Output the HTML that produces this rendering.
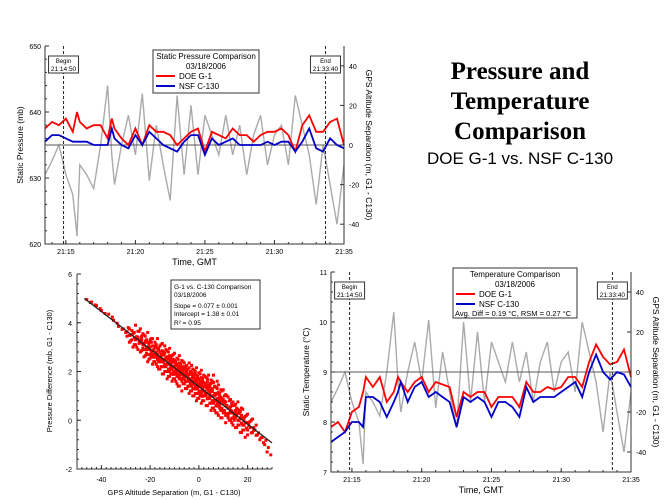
<!DOCTYPE html>
<html><head><meta charset="utf-8"><style>
body{margin:0;background:#fff;}
svg{display:block;font-family:"Liberation Sans",sans-serif;}
</style></head><body>
<svg id="s" width="667" height="500" viewBox="0 0 667 500" xmlns="http://www.w3.org/2000/svg">
<rect width="667" height="500" fill="#fff"/>
<g font-family="'Liberation Serif',serif" font-weight="bold" font-size="25" text-anchor="middle" fill="#000">
<text x="520" y="79">Pressure and</text>
<text x="520" y="109">Temperature</text>
<text x="520" y="139">Comparison</text>
</g>
<text x="520" y="164" font-size="17" text-anchor="middle">DOE G-1 vs. NSF C-130</text>
</svg>
<script>
const times=[13.5,14,14.5,15,15.5,15.8,16,16.5,17,17.5,18,18.3,18.5,19,19.5,20,20.5,21,21.5,22,22.5,23,23.5,24,24.5,25,25.5,26,26.5,27,27.5,28,28.5,29,29.5,30,30.5,31,31.5,32,32.5,33,33.5,34,34.5,35];
const gpsSep=[-15,-8,0,-15,-25,-46,-10,-15,-22,0,30,-5,-20,0,15,-5,26,-18,10,-10,-28,25,-15,20,-15,15,5,-5,15,-5,10,-15,5,15,-10,5,10,-10,25,10,-5,-30,0,-20,-40,-10];
const pressDOE=[637.5,638.5,638,639,637,640,638.5,637.5,638,638,636,639,637.5,636,635,637.5,635,638,637,637,636.5,635,636,637,637.5,634,637,636.5,636,637.5,636.5,636.5,635.5,636.5,637,637,637.5,636.5,634,638,639.5,637,637,638.5,639,635];
const pressNSF=[635.5,636.5,636.5,636,635.5,635.5,635.5,635.5,635,635,635,637.5,636,635,634.5,636.5,635,637,636,635,634.5,634,635.5,636.5,636.5,633.5,636,635,635.5,636,635,635,635,635,635.5,635,635.5,635.5,634,635.5,637.5,634.5,634,636,635,634.5];
const tempDOE=[7.9,8.0,7.8,8.2,8.3,8.6,8.9,8.7,8.9,8.4,8.6,8.9,8.8,8.6,8.8,8.9,8.6,8.8,8.75,8.7,8.1,8.6,8.5,8.6,8.6,8.3,8.5,8.5,8.5,8.3,8.8,8.6,8.6,8.7,8.65,8.7,8.9,8.9,8.7,9.2,9.55,9.3,9.15,9.2,9.45,8.9];
const tempNSF=[7.6,7.7,7.8,8.0,8.0,7.9,8.5,8.5,8.4,8.1,8.4,8.6,8.8,8.4,8.7,8.8,8.5,8.6,8.5,8.4,7.9,8.5,8.4,8.5,8.4,8.1,8.4,8.4,8.3,8.1,8.7,8.4,8.5,8.5,8.5,8.6,8.7,8.8,8.5,9.0,9.35,9.0,8.85,9.0,8.95,8.7];
const timeTicks=[15,20,25,30,35];
const timeTickLabels=["21:15","21:20","21:25","21:30","21:35"];
const pressTicks=[620,630,640,650];
const tempTicks=[7,8,9,10,11];
const sepTicks=[-40,-20,0,20,40];
const markerTimes=[14.833,33.667];
const markerLabels=[["Begin","21:14:50"],["End","21:33:40"]];
const scatX=[-46,-44,-42,-40,-37,-35,-33,-31,-30,-29,-28,-27,-26,-25,-24,-23,-22,-21,-20,-20,-19,-18,-18,-17,-16,-16,-15,-15,-14,-14,-13,-13,-12,-12,-11,-11,-10,-10,-9,-9,-8,-8,-7,-7,-6,-6,-5,-5,-4,-4,-3,-3,-2,-2,-1,-1,0,0,0,1,1,2,2,3,3,4,4,5,5,6,6,7,7,8,8,9,9,10,10,11,12,12,13,14,15,15,16,17,18,19,20,21,22,23,24,25,26,27,28];
const scatY=[4.95,4.85,4.7,4.5,4.35,4.1,3.85,3.75,3.6,3.8,3.5,3.55,3.3,3.4,3.2,3.1,3.25,2.95,3.0,2.7,2.85,2.6,3.0,2.7,2.5,2.8,2.4,2.7,2.5,2.2,2.6,2.3,2.3,2.0,2.4,2.1,2.2,1.9,2.3,2.0,1.8,2.1,2.0,1.7,1.9,1.5,1.8,2.0,1.6,1.9,1.7,1.4,1.8,1.5,1.6,1.3,1.7,1.4,1.1,1.5,1.2,1.4,1.0,1.5,1.1,1.3,0.9,1.2,1.5,1.0,0.7,1.1,0.8,0.9,0.6,0.9,0.5,0.7,0.4,0.6,0.5,0.2,0.4,0.3,0.1,0.4,0.0,0.1,-0.2,-0.1,-0.4,-0.3,-0.5,-0.4,-0.6,-0.8,-0.7,-1.0,-1.3];
const fitSlope=[-0.077];
const fitIntercept=[1.38];
const scatXTicks=[-40,-20,0,20];
const scatYTicks=[-2,0,2,4,6];

const svg=document.getElementById('s');
const NS="http://www.w3.org/2000/svg";
function mk(tag,attrs,parent,text){const e=document.createElementNS(NS,tag);for(const k in attrs)e.setAttribute(k,attrs[k]);if(text!==undefined)e.textContent=text;(parent||svg).appendChild(e);return e;}
function grp(name){const g=mk('g',{});


return g;}
function lin(d0,d1,r0,r1){return v=>r0+(v-d0)/(d1-d0)*(r1-r0);}
function path(xs,ys,fx,fy){return xs.map((x,i)=>(i?'L':'M')+fx(x).toFixed(1)+','+fy(ys[i]).toFixed(1)).join('');}

function timeChart(o){
  const g=grp(o.name);
  const fx=lin(13.5,35,o.x0,o.x1), fy=lin(o.ymin,o.ymax,o.y1,o.y0), fs=lin(-50,50,o.y1,o.y0);
  const gp=mk('path',{d:path(times,gpsSep,fx,fs),fill:'none',stroke:'#aaa','stroke-width':1.4},g);
  
  
  const zl=mk('line',{x1:o.x0,x2:o.x1,y1:fs(0),y2:fs(0),stroke:'#555','stroke-width':1},g);
  
  
  const r=mk('path',{d:path(times,o.red,fx,fy),fill:'none',stroke:'#f00','stroke-width':1.8},g);
  
  
  const b=mk('path',{d:path(times,o.blue,fx,fy),fill:'none',stroke:'#0000c8','stroke-width':1.8},g);
  
  
  const ax=mk('path',{d:`M${o.x0},${o.y0}V${o.y1}H${o.x1}V${o.y0}`,fill:'none',stroke:'#333','stroke-width':1},g);
  
  
  o.yt.forEach(v=>{const y=fy(v);mk('line',{x1:o.x0,x2:o.x0+4,y1:y,y2:y,stroke:'#333'},g);
    const t=mk('text',{x:o.x0-4,y:y+3,'font-size':7,'text-anchor':'end'},g,v);
    
    });
  for(let v=o.ymin;v<=o.ymax;v+=o.minor){const y=fy(v);mk('line',{x1:o.x0,x2:o.x0+2,y1:y,y2:y,stroke:'#333'},g);}
  sepTicks.forEach(v=>{const y=fs(v);mk('line',{x1:o.x1-4,x2:o.x1,y1:y,y2:y,stroke:'#333'},g);
    const t=mk('text',{x:o.x1+5,y:y+3,'font-size':7},g,v);
    
    });
  timeTicks.forEach((v,i)=>{const x=fx(v);mk('line',{x1:x,x2:x,y1:o.y1,y2:o.y1-4,stroke:'#333'},g);
    const t=mk('text',{x:x,y:o.y1+10,'font-size':7,'text-anchor':'middle'},g,timeTickLabels[i]);
    
    });
  for(let v=14;v<=35;v+=1){const x=fx(v);mk('line',{x1:x,x2:x,y1:o.y1,y2:o.y1-2,stroke:'#333'},g);}
  markerTimes.forEach((v,i)=>{const x=fx(v);
    const l=mk('line',{x1:x,x2:x,y1:o.y0,y2:o.y1,stroke:'#222','stroke-dasharray':'3,2','stroke-width':1},g);
    
    
    const bx=mk('rect',{x:x-15,y:o.y0+10,width:30,height:17,fill:'#fff',stroke:'#333'},g);
    
    
    mk('text',{x:x,y:o.y0+17,'font-size':6,'text-anchor':'middle'},g,markerLabels[i][0]);
    mk('text',{x:x,y:o.y0+25,'font-size':6.5,'text-anchor':'middle'},g,markerLabels[i][1]);});
  const xl=mk('text',{x:(o.x0+o.x1)/2,y:o.y1+21,'font-size':9,'text-anchor':'middle'},g,'Time, GMT');
  
  
  const yl=mk('text',{x:0,y:0,'font-size':8.5,'text-anchor':'middle',transform:`translate(${o.x0-22},${(o.y0+o.y1)/2}) rotate(-90)`},g,o.ylabel);
  
  
  const rl=mk('text',{x:0,y:0,'font-size':8.5,'text-anchor':'middle',transform:`translate(${o.x1+22},${(o.y0+o.y1)/2}) rotate(90)`},g,'GPS Altitude Separation (m, G1 - C130)');
  
  
  const L=o.leg; const lg=grp('legend'); g.appendChild(lg);
  mk('rect',{x:L.x,y:L.y,width:L.w,height:L.h,fill:'#fff',stroke:'#333'},lg);
  mk('text',{x:L.x+L.w/2,y:L.y+9,'font-size':8,'text-anchor':'middle'},lg,o.title);
  mk('text',{x:L.x+L.w/2,y:L.y+19,'font-size':8,'text-anchor':'middle'},lg,'03/18/2006');
  mk('line',{x1:L.x+3,x2:L.x+22,y1:L.y+26,y2:L.y+26,stroke:'#f00','stroke-width':2},lg);
  mk('text',{x:L.x+26,y:L.y+29,'font-size':8},lg,'DOE G-1');
  mk('line',{x1:L.x+3,x2:L.x+22,y1:L.y+36,y2:L.y+36,stroke:'#0000c8','stroke-width':2},lg);
  mk('text',{x:L.x+26,y:L.y+39,'font-size':8},lg,'NSF C-130');
  if(o.extra) mk('text',{x:L.x+2,y:L.y+48,'font-size':7.5},lg,o.extra);
}
timeChart({name:'pressure-chart',x0:45,x1:344,y0:46,y1:244,ymin:620,ymax:650,minor:2,yt:pressTicks,red:pressDOE,blue:pressNSF,ylabel:'Static Pressure (mb)',title:'Static Pressure Comparison',leg:{x:153,y:50,w:106,h:43}});
timeChart({name:'temperature-chart',x0:331,x1:631,y0:272,y1:472,ymin:7,ymax:11,minor:0.2,yt:tempTicks,red:tempDOE,blue:tempNSF,ylabel:'Static Temperature (°C)',title:'Temperature Comparison',extra:'Avg. Diff = 0.19 °C, RSM = 0.27 °C',leg:{x:453,y:268,w:124,h:50}});

(function(){
  const g=grp('scatter-chart');
  const x0=77,x1=272,y0=274,y1=469;
  const fx=lin(-50,30,x0,x1), fy=lin(-2,6,y1,y0);
  const jit=[[0,0],[1.5,-0.12],[-1.5,0.2],[1,0.35],[-1,-0.3],[2.5,0.1],[-2.5,-0.1]];
  scatX.forEach((x,i)=>{
    const n=(x>-28&&x<22)?jit.length:2;
    for(let k=0;k<n;k++){
      const p=mk('rect',{x:fx(x+jit[k][0])-1.5,y:fy(scatY[i]+jit[k][1])-1.5,width:3,height:3,fill:'#f00'},g);
      
      
    }});
  const fl=mk('line',{x1:fx(-47),y1:fy(fitIntercept[0]+fitSlope[0]*-47),x2:fx(30),y2:fy(fitIntercept[0]+fitSlope[0]*30),stroke:'#222','stroke-width':1.3},g);
  
  
  const ax=mk('path',{d:`M${x0},${y0}V${y1}H${x1}`,fill:'none',stroke:'#333'},g);
  
  
  scatYTicks.forEach(v=>{const y=fy(v);mk('line',{x1:x0,x2:x0+4,y1:y,y2:y,stroke:'#333'},g);
    const t=mk('text',{x:x0-5,y:y+3,'font-size':7,'text-anchor':'end'},g,v);
    
    });
  for(let v=-2;v<=6;v+=0.4){const y=fy(v);mk('line',{x1:x0,x2:x0+2,y1:y,y2:y,stroke:'#333'},g);}
  scatXTicks.forEach(v=>{const x=fx(v);mk('line',{x1:x,x2:x,y1:y1,y2:y1-4,stroke:'#333'},g);
    const t=mk('text',{x:x,y:y1+13,'font-size':7,'text-anchor':'middle'},g,v);
    
    });
  for(let v=-48;v<=30;v+=2){const x=fx(v);mk('line',{x1:x,x2:x,y1:y1,y2:y1-2,stroke:'#333'},g);}
  const xl=mk('text',{x:174,y:495,'font-size':7.5,'text-anchor':'middle'},g,'GPS Altitude Separation (m, G1 - C130)');
  
  
  const yl=mk('text',{x:0,y:0,'font-size':7.5,'text-anchor':'middle',transform:`translate(52,371) rotate(-90)`},g,'Pressure Difference (mb, G1 - C130)');
  
  
  const bx=grp('fit-stats-box'); g.appendChild(bx);
  mk('rect',{x:171,y:280,width:89,height:49,fill:'#fff',stroke:'#333'},bx);
  mk('text',{x:174,y:289,'font-size':6.5},bx,'G-1 vs. C-130 Comparison');
  mk('text',{x:174,y:297,'font-size':6.5},bx,'03/18/2006');
  mk('text',{x:174,y:308,'font-size':6.5},bx,'Slope = 0.077 ± 0.001');
  mk('text',{x:174,y:316,'font-size':6.5},bx,'Intercept = 1.38 ± 0.01');
  mk('text',{x:174,y:325,'font-size':6.5},bx,'R² = 0.95');
})();
</script>
</body></html>
